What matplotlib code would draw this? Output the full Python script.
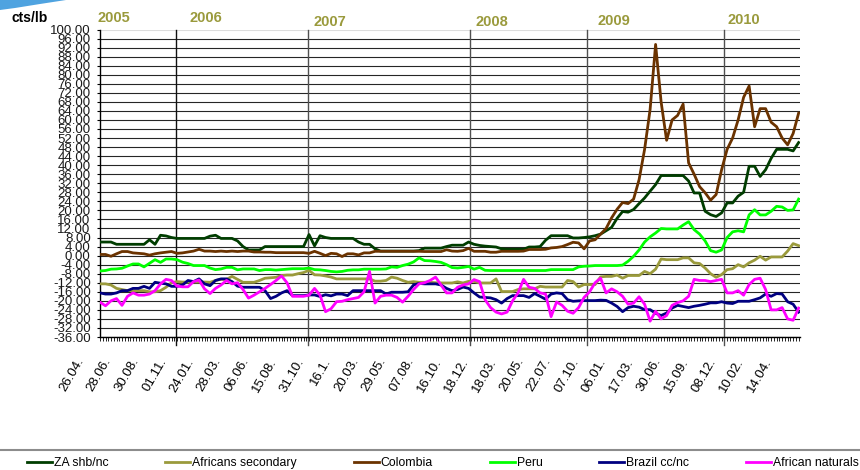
import numpy as np
import matplotlib
matplotlib.use('Agg')
import matplotlib.pyplot as plt
from matplotlib.lines import Line2D
from matplotlib.patches import Polygon
from matplotlib.transforms import ScaledTranslation

plt.rcParams['font.family'] = ['Liberation Sans', 'DejaVu Sans']

# differentials in cts/lb, one value every 2nd weekly quote
za_shb = [
    6.0, 6.0, 6.0, 5.0, 5.0, 5.0, 5.0, 5.0, 5.0, 7.0,
    5.0, 9.0, 8.7, 8.0, 7.6, 7.6, 7.6, 7.6, 7.6, 7.6,
    8.6, 9.0, 7.6, 7.6, 7.6, 6.5, 4.0, 2.5, 2.5, 2.5,
    4.0, 4.0, 4.0, 4.0, 4.0, 4.0, 4.0, 4.0, 9.3, 4.3,
    8.8, 8.0, 7.6, 7.6, 7.6, 7.6, 7.6, 6.0, 5.0, 5.0,
    3.0, 2.0, 2.0, 2.0, 2.0, 2.0, 2.0, 2.0, 2.2, 3.3,
    3.3, 3.3, 3.3, 4.0, 4.6, 4.6, 4.6, 6.0, 5.0, 4.5,
    4.2, 4.0, 3.8, 3.0, 2.8, 2.8, 2.8, 2.8, 3.8, 3.8,
    4.0, 6.8, 8.8, 8.8, 8.8, 8.8, 7.8, 7.8, 8.0, 8.3,
    8.8, 9.5, 11.0, 12.5, 16.5, 19.5, 19.2, 20.4, 23.0, 25.5,
    28.5, 31.4, 35.4, 35.4, 35.4, 35.4, 35.4, 33.0, 27.7, 27.7,
    19.6, 18.1, 17.3, 18.9, 23.3, 23.3, 26.3, 28.0, 39.5, 39.5,
    35.0, 38.0, 43.0, 47.0, 47.0, 47.0, 46.3, 50.0]

africans_sec = [
    -12.5, -12.5, -13.0, -14.5, -15.0, -15.5, -15.5, -15.5, -15.5, -16.0,
    -16.0, -15.5, -14.0, -12.0, -11.5, -11.7, -11.7, -11.7, -11.7, -11.7,
    -11.8, -11.0, -10.5, -10.5, -9.2, -10.5, -11.8, -11.8, -11.8, -11.0,
    -10.0, -9.8, -9.6, -8.8, -8.6, -8.6, -8.0, -7.5, -6.5, -8.5,
    -8.6, -9.0, -9.5, -10.3, -10.3, -10.3, -10.3, -10.3, -10.3, -10.3,
    -11.3, -11.3, -11.0, -9.5, -10.0, -11.0, -11.8, -11.5, -11.8, -11.8,
    -11.8, -12.0, -12.1, -12.1, -12.1, -11.6, -12.1, -11.4, -11.4, -12.1,
    -12.1, -12.1, -10.3, -15.9, -15.9, -15.9, -15.0, -14.7, -14.7, -14.7,
    -13.6, -13.9, -13.9, -13.9, -13.9, -11.0, -11.5, -13.9, -12.8, -12.8,
    -12.8, -9.4, -9.2, -9.2, -8.6, -10.0, -8.8, -8.8, -8.8, -7.0,
    -8.0, -6.0, -1.5, -1.8, -1.8, -1.8, -1.0, -1.0, -3.2, -3.5,
    -5.5, -8.0, -9.6, -8.4, -6.2, -5.8, -4.0, -5.0, -3.2, -2.0,
    -0.3, -2.0, -0.6, -0.6, -0.6, 2.0, 5.3, 4.4]

colombia = [
    0.5, 0.5, -0.3, 0.8, 1.8, 1.8, 1.2, 1.0, 0.8, 0.2,
    0.8, 1.2, 1.5, 1.8, 1.0, 1.2, 1.6, 2.0, 2.8, 2.0,
    2.0, 1.8, 2.0, 1.8, 2.0, 1.8, 2.0, 2.0, 1.6, 1.6,
    1.5, 1.5, 1.3, 1.3, 1.3, 1.3, 1.3, 1.3, 1.0, 1.9,
    1.0, 0.0, 1.0, 0.8, -0.4, 0.8, 0.8, 0.3, 1.2, 1.2,
    1.9, 1.9, 1.9, 1.9, 1.9, 1.9, 1.9, 1.9, 1.9, 1.8,
    1.8, 1.8, 1.8, 2.6, 2.0, 1.9, 2.2, 3.2, 1.9, 1.9,
    1.9, 1.5, 1.5, 1.9, 1.9, 1.9, 1.9, 2.0, 2.7, 2.7,
    2.7, 2.8, 3.4, 3.6, 4.0, 4.9, 5.9, 5.6, 3.0, 6.5,
    7.0, 9.5, 12.0, 16.7, 20.5, 23.5, 23.0, 25.0, 33.6, 47.0,
    64.6, 93.4, 68.0, 51.0, 60.0, 62.0, 67.0, 41.0, 36.0, 30.5,
    27.8, 24.5, 27.0, 38.0, 47.0, 52.0, 60.0, 70.0, 75.0, 57.0,
    65.0, 65.0, 59.0, 57.0, 52.0, 49.0, 54.0, 63.0]

peru = [
    -6.8, -6.6, -6.0, -5.9, -5.6, -4.6, -3.7, -3.7, -5.0, -3.4,
    -1.8, -3.0, -1.5, -1.5, -1.8, -2.9, -3.5, -4.4, -4.4, -4.4,
    -5.5, -6.2, -5.9, -5.2, -5.2, -6.3, -5.9, -5.9, -5.9, -6.6,
    -6.2, -6.2, -6.4, -6.2, -6.0, -5.8, -5.8, -5.8, -5.5, -6.2,
    -6.3, -6.6, -7.0, -7.2, -7.0, -6.5, -6.3, -6.3, -6.0, -6.0,
    -6.0, -6.0, -5.9, -5.0, -5.2, -4.4, -3.8, -2.8, -1.0, -2.2,
    -2.3, -2.6, -3.0, -4.0, -5.3, -5.5, -5.2, -4.8, -6.0, -5.2,
    -6.5, -6.6, -6.6, -6.6, -6.6, -6.6, -6.6, -6.6, -6.6, -6.6,
    -6.6, -6.6, -6.2, -6.2, -6.2, -6.2, -6.2, -5.0, -4.7, -4.6,
    -4.4, -4.4, -4.4, -4.4, -4.4, -4.2, -2.5, -0.3, 2.5, 6.0,
    8.3, 10.0, 12.0, 11.8, 11.8, 11.8, 13.5, 15.0, 11.5, 9.5,
    6.5, 2.2, 1.5, 2.5, 8.0, 10.5, 11.0, 10.5, 18.0, 20.3,
    18.0, 18.0, 19.6, 21.8, 21.5, 20.0, 20.2, 25.0]

brazil = [
    -16.5, -17.0, -17.0, -16.5, -15.5, -15.5, -14.5, -14.5, -13.6, -14.5,
    -11.8, -12.2, -12.5, -13.6, -13.6, -13.0, -11.0, -11.5, -10.3, -12.5,
    -13.3, -11.0, -10.3, -10.3, -11.5, -13.5, -14.0, -14.0, -14.0, -14.0,
    -15.5, -19.0, -18.0, -16.5, -15.5, -17.7, -17.7, -17.7, -17.4, -17.4,
    -18.1, -17.3, -17.8, -17.0, -17.0, -17.7, -15.5, -15.5, -15.5, -15.5,
    -15.5, -15.5, -17.0, -16.2, -16.2, -16.2, -16.0, -13.0, -12.3, -12.5,
    -12.5, -12.5, -13.0, -14.5, -15.5, -15.0, -13.9, -14.5, -16.5, -18.3,
    -18.5, -18.7, -19.5, -21.0, -19.0, -17.7, -17.7, -17.7, -18.5, -16.8,
    -18.0, -19.3, -17.0, -16.5, -16.8, -19.5, -20.2, -20.0, -19.9, -19.9,
    -19.9, -19.7, -19.8, -21.0, -22.5, -24.8, -23.0, -22.4, -22.8, -23.9,
    -23.9, -25.5, -26.5, -25.4, -23.2, -22.0, -22.5, -23.0, -22.4, -22.0,
    -21.5, -20.9, -20.9, -20.4, -21.0, -21.2, -20.2, -20.2, -20.2, -19.5,
    -18.7, -17.0, -18.0, -16.8, -17.0, -20.4, -21.5, -25.0]

african_nat = [
    -20.6, -22.2, -20.0, -19.0, -22.0, -18.0, -16.5, -17.5, -17.5, -17.0,
    -15.5, -12.5, -10.5, -11.0, -13.5, -13.8, -13.8, -11.5, -10.8, -14.7,
    -16.8, -14.5, -13.0, -11.0, -12.5, -12.0, -15.0, -18.8, -17.5, -16.0,
    -14.5, -12.8, -11.0, -9.0, -12.0, -18.0, -18.0, -18.0, -17.5, -14.5,
    -17.5, -24.8, -23.5, -20.4, -20.2, -19.5, -19.0, -18.5, -16.0, -7.0,
    -21.0, -18.0, -17.5, -17.5, -18.5, -20.6, -18.0, -15.0, -12.5, -12.0,
    -11.0, -9.5, -13.0, -16.5, -16.5, -14.0, -13.0, -12.5, -10.6, -11.5,
    -19.5, -23.0, -25.0, -25.8, -25.0, -20.0, -16.5, -10.5, -14.0, -14.5,
    -16.5, -17.0, -27.0, -20.5, -22.0, -24.6, -25.5, -23.0, -18.5, -16.0,
    -12.0, -10.0, -16.5, -14.7, -16.0, -18.0, -21.5, -21.0, -18.2, -21.5,
    -29.0, -24.6, -28.0, -26.5, -22.0, -20.8, -20.0, -18.0, -10.5, -11.0,
    -11.0, -11.5, -11.0, -10.5, -16.5, -16.5, -15.5, -17.5, -12.8, -10.5,
    -10.0, -15.0, -24.0, -24.0, -23.0, -28.0, -28.6, -23.2]

series_names = ['ZA shb/nc', 'Africans secondary', 'Colombia', 'Peru',
                'Brazil cc/nc', 'African naturals']
series_colors = ['#003d00', '#9a9a3c', '#6b3300', '#00ff00', '#000080', '#ff00ff']

date_labels = ['26.04.', '28.06.', '30.08.', '01.11.', '24.01.', '28.03.', '06.06.',
               '15.08.', '31.10.', '16.1.', '20.03.', '29.05.', '07.08.', '16.10.',
               '18.12.', '18.03.', '20.05.', '22.07.', '07.10.', '06.01.', '17.03.',
               '30.06.', '15.09.', '08.12.', '10.02.', '14.04.']
years = ['2005', '2006', '2007', '2008', '2009', '2010']
# category index where each new year starts (hand drawn lines on the original)
year_breaks = [27.6, 75.6, 134.5, 177.1, 226.9]

n_cat = 255
x = np.arange(0, 2 * len(za_shb), 2)

fig = plt.figure(figsize=(8.6, 4.7), dpi=100)
ax = fig.add_axes([100 / 860, 133 / 470, 700 / 860, 307.5 / 470])

all_series = [za_shb, africans_sec, colombia, peru, brazil, african_nat]
lines = []
for name, vals, col in zip(series_names, all_series, series_colors):
    ln, = ax.plot(x, vals, color=col, lw=2.0, label=name, zorder=3)
    lines.append(ln)

ax.set_xlim(0, 254.5)
ax.set_ylim(-36, 100)

yt = np.arange(-36, 101, 4)
ax.set_yticks(yt)
ax.set_yticklabels([f'{v:.2f}' for v in yt])
ax.grid(axis='y', color='#262626', lw=0.8)
ax.set_axisbelow(True)
ax.yaxis.get_gridlines()[-1].set_color('#dddddd')

for side in ['top', 'right']:
    ax.spines[side].set_visible(False)
ax.spines['left'].set_linewidth(1.0)
ax.spines['bottom'].set_linewidth(1.0)

ax.tick_params(axis='y', direction='out', length=2.2, width=0.8, pad=4.5,
               labelsize=9.5, labelcolor='#1a1a1a')

ax.set_xticks(np.arange(0, n_cat, 10))
ax.set_xticks(np.arange(0, n_cat), minor=True)
ax.set_xticklabels(date_labels, rotation=60, ha='right', va='center',
                   rotation_mode='anchor', fontsize=9.5)
ax.tick_params(axis='x', which='both', direction='out', length=2.9, width=0.6)
ax.tick_params(axis='x', which='major', pad=13)
shift = ScaledTranslation(-19 / 100, 0, fig.dpi_scale_trans)
for lbl in ax.get_xticklabels():
    lbl.set_transform(lbl.get_transform() + shift)

# year separators
for i, xb in enumerate(year_breaks):
    ax.axvline(xb, ymin=-0.026, ymax=1, color='#111111' if i == 0 else '#505050',
               lw=1.0, clip_on=False, zorder=2)

year_pos = [(97, 18), (190, 18), (313, 22), (475, 22), (598, 21), (728, 20)]
for yr, (px, py) in zip(years, year_pos):
    fig.text(px / 860, 1 - py / 470, yr, color='#9a9a3c', fontsize=10.5,
             fontweight='bold', ha='left', va='center')

fig.text(12 / 860, 1 - 18 / 470, 'cts/lb', fontsize=10, fontweight='bold',
         ha='left', va='center', color='black')

# blue corner decoration
fig.add_artist(Polygon([(0, 1), (66 / 860, 1), (40 / 860, 1 - 4 / 470),
                        (15 / 860, 1 - 8 / 470), (0, 1 - 10 / 470)],
                       closed=True, transform=fig.transFigure,
                       facecolor='#4fa3e0', edgecolor='none'))

# separator above legend
fig.add_artist(Line2D([0, 1], [1 - 450 / 470, 1 - 450 / 470],
                      transform=fig.transFigure, color='#8c8c8c', lw=1.5))

fig.legend(lines, series_names, loc='center left',
           bbox_to_anchor=(27 / 860, 1 - 463 / 470), ncol=6, frameon=False,
           fontsize=8.8, handlelength=2.05, handletextpad=0.15,
           columnspacing=4.65, borderpad=0, borderaxespad=0)

fig.savefig('out.png', dpi=100)
